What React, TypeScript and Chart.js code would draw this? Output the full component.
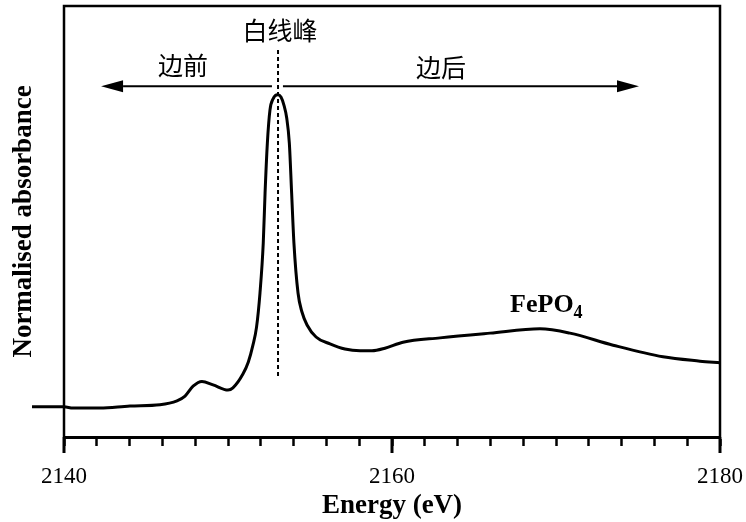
import React, { useEffect, useRef } from "react";
import { Chart, registerables } from "chart.js";

Chart.register(...registerables);

// ---- data ----
const energy = [
  2138.05, 2140.0, 2140.55, 2142.2, 2144.02, 2145.85, 2146.89, 2147.38, 2147.87, 2148.41,
  2149.09, 2150.0, 2150.3, 2150.91, 2151.24, 2151.52, 2151.74, 2151.95, 2152.15, 2152.26,
  2152.4, 2152.56, 2152.74, 2153.02, 2153.23, 2153.41, 2153.58, 2153.74, 2153.88, 2154.02,
  2154.27, 2154.51, 2154.82, 2155.37, 2156.22, 2157.13, 2158.05, 2158.78, 2159.57, 2160.67,
  2162.93, 2165.98, 2169.02, 2170.85, 2173.48, 2176.52, 2178.78, 2180.0,
];
const absorbance = [
  0.7, 0.7, 0.67, 0.67, 0.72, 0.75, 0.84, 0.95, 1.18, 1.29,
  1.21, 1.09, 1.14, 1.46, 1.74, 2.13, 2.55, 3.34, 4.5, 5.66,
  6.82, 7.59, 7.84, 7.94, 7.89, 7.7, 7.4, 6.82, 5.66, 4.5,
  3.34, 2.9, 2.6, 2.32, 2.16, 2.04, 2.0, 2.0, 2.06, 2.2,
  2.3, 2.41, 2.51, 2.41, 2.13, 1.86, 1.76, 1.72,
];
const xMajorTicks = [2140, 2160, 2180];
const xTickLabels = ["2140", "2160", "2180"];
const xTitle = "Energy (eV)";
const yTitle = "Normalised absorbance";
const sampleLabel = "FePO";
const sampleSub = "4";
const peakLabel = "白线峰";
const preEdgeLabel = "边前";
const postEdgeLabel = "边后";
const whiteLineEnergy = 2153.05;

// annotation anchors in data coordinates
const anno = {
  dashTop: 8.98,
  dashBottom: 1.35,
  arrowY: 8.14,
  arrowLeftTip: 2142.26,
  arrowRightTip: 2175.06,
  gapLeft: 2152.68,
  gapRight: 2153.35,
  peakText: { x: 2153.17, y: 9.44 },
  preText: { x: 2147.26, y: 8.61 },
  postText: { x: 2162.99, y: 8.58 },
  sampleText: { x: 2167.2, y: 2.9 },
};

const SERIF = "'Liberation Serif', 'Times New Roman', serif";
const CJK = "'Noto Sans CJK SC', sans-serif";

const annotPlugin = {
  id: "annot",
  afterDraw(chart: any) {
    const { ctx, chartArea: ca, scales } = chart;
    const x = scales.x;
    const y = scales.y;
    ctx.save();
    ctx.strokeStyle = "#000";
    ctx.fillStyle = "#000";

    // frame (left, top, right)
    ctx.lineWidth = 2.5;
    ctx.beginPath();
    ctx.moveTo(ca.left, ca.bottom);
    ctx.lineTo(ca.left, ca.top);
    ctx.lineTo(ca.right, ca.top);
    ctx.lineTo(ca.right, ca.bottom);
    ctx.stroke();

    // long major ticks
    ctx.lineWidth = 3;
    ctx.beginPath();
    for (const v of xMajorTicks) {
      const px = Math.round(x.getPixelForValue(v));
      ctx.moveTo(px, ca.bottom);
      ctx.lineTo(px, ca.bottom + 16);
    }
    ctx.stroke();

    // dashed white-line marker
    const dx = x.getPixelForValue(whiteLineEnergy);
    ctx.lineWidth = 2;
    ctx.setLineDash([4, 3]);
    ctx.beginPath();
    ctx.moveTo(dx, y.getPixelForValue(anno.dashTop));
    ctx.lineTo(dx, y.getPixelForValue(anno.dashBottom));
    ctx.stroke();
    ctx.setLineDash([]);

    // arrows
    const ay = y.getPixelForValue(anno.arrowY);
    const drawArrow = (fromE: number, toE: number) => {
      const x0 = x.getPixelForValue(fromE);
      const x1 = x.getPixelForValue(toE);
      const dir = Math.sign(x1 - x0);
      const headLen = 22;
      ctx.lineWidth = 2;
      ctx.beginPath();
      ctx.moveTo(x0, ay);
      ctx.lineTo(x1 - dir * headLen, ay);
      ctx.stroke();
      ctx.beginPath();
      ctx.moveTo(x1, ay);
      ctx.lineTo(x1 - dir * headLen, ay - 6);
      ctx.lineTo(x1 - dir * headLen, ay + 6);
      ctx.closePath();
      ctx.fill();
    };
    drawArrow(anno.gapLeft, anno.arrowLeftTip);
    drawArrow(anno.gapRight, anno.arrowRightTip);

    // CJK labels
    ctx.font = `25px ${CJK}`;
    ctx.textAlign = "center";
    ctx.textBaseline = "middle";
    const putText = (t: string, p: { x: number; y: number }) =>
      ctx.fillText(t, x.getPixelForValue(p.x), y.getPixelForValue(p.y));
    putText(peakLabel, anno.peakText);
    putText(preEdgeLabel, anno.preText);
    putText(postEdgeLabel, anno.postText);

    // sample label with subscript
    const sx = x.getPixelForValue(anno.sampleText.x);
    const sy = y.getPixelForValue(anno.sampleText.y);
    ctx.textAlign = "left";
    ctx.textBaseline = "alphabetic";
    ctx.font = `bold 26px ${SERIF}`;
    ctx.fillText(sampleLabel, sx, sy);
    const w = ctx.measureText(sampleLabel).width;
    ctx.font = `bold 18px ${SERIF}`;
    ctx.fillText(sampleSub, sx + w, sy + 6);

    ctx.restore();
  },
};

export default function App() {
  const canvasRef = useRef<HTMLCanvasElement | null>(null);

  useEffect(() => {
    if (!canvasRef.current) return;
    const chart = new Chart(canvasRef.current, {
      type: "line",
      data: {
        datasets: [
          {
            data: energy.map((e, i) => ({ x: e, y: absorbance[i] })),
            borderColor: "#000",
            borderWidth: 3,
            pointRadius: 0,
            fill: false,
            cubicInterpolationMode: "monotone",
            clip: false as any,
          },
        ],
      },
      options: {
        animation: false,
        responsive: false,
        maintainAspectRatio: false,
        devicePixelRatio: 1,
        layout: { padding: { left: 0, top: 6, right: 26, bottom: 0 } },
        plugins: { legend: { display: false }, tooltip: { enabled: false } },
        scales: {
          x: {
            type: "linear",
            min: 2140,
            max: 2180,
            afterFit: (s: any) => {
              s.height = 85;
              s.paddingLeft = 0;
              s.paddingRight = 0;
            },
            border: { display: true, color: "#000", width: 3 },
            grid: {
              display: true,
              drawOnChartArea: false,
              drawTicks: true,
              tickLength: 9,
              tickWidth: 2.5,
              tickColor: "#000",
              color: "#000",
            },
            ticks: {
              stepSize: 2,
              autoSkip: false,
              maxRotation: 0,
              padding: 17,
              color: "#000",
              font: { family: SERIF, size: 23 },
              callback: (v: any) => {
                const i = xMajorTicks.indexOf(Number(v));
                return i >= 0 ? xTickLabels[i] : "";
              },
            },
            title: {
              display: true,
              text: xTitle,
              color: "#000",
              font: { family: SERIF, size: 27, weight: "bold" },
              padding: { top: 0, bottom: 0 },
            },
          },
          y: {
            type: "linear",
            min: 0,
            max: 10,
            afterFit: (s: any) => {
              s.width = 64;
            },
            border: { display: false },
            grid: { display: false },
            ticks: { display: false },
            title: {
              display: true,
              text: yTitle,
              color: "#000",
              font: { family: SERIF, size: 27, weight: "bold" },
              padding: { top: 8, bottom: 0 },
            },
          },
        },
      },
      plugins: [annotPlugin],
    } as any);
    return () => chart.destroy();
  }, []);

  return (
    <div style={{ position: "fixed", left: 0, top: 0, width: 746, height: 522, background: "#fff" }}>
      <canvas ref={canvasRef} width={746} height={522} style={{ display: "block", width: 746, height: 522 }} />
    </div>
  );
}
